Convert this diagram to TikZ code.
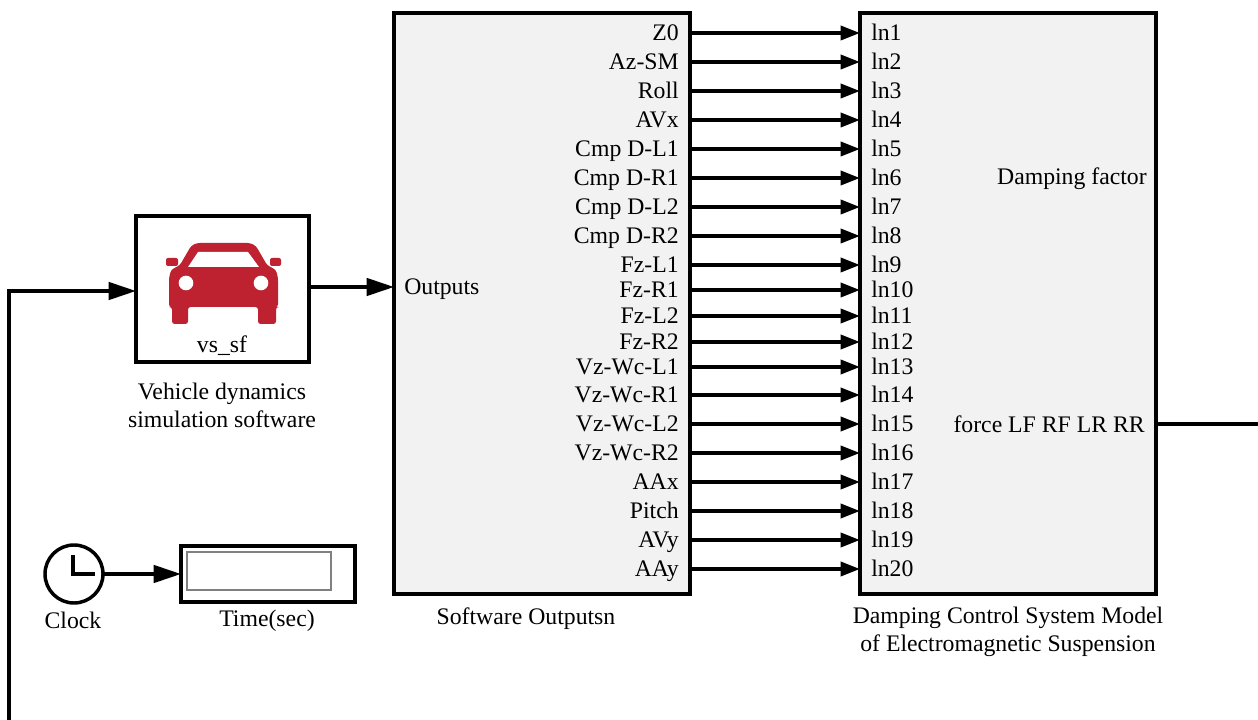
\documentclass[tikz,border=0pt]{standalone}
\usepackage{fontspec}
\setmainfont{Liberation Serif}
\usetikzlibrary{arrows.meta}
\definecolor{blockgray}{HTML}{F2F2F2}
\definecolor{carred}{HTML}{BE2130}
\tikzset{
block/.style={draw,line width=2.6pt,fill=blockgray,inner sep=0pt,outer sep=0pt},
wblock/.style={block,fill=white},
lab/.style={font=\fontsize{17.8}{21}\selectfont,inner sep=0pt},
sig/.style={-{Triangle[length=14.5pt,width=10.5pt]},line width=2.6pt},
bigsig/.style={-{Triangle[length=20.5pt,width=13pt]},line width=2.6pt},
}
\begin{document}
\begin{tikzpicture}[x=.75pt,y=-.75pt]
\useasboundingbox (0,0) rectangle (1258,720);
% blocks
\node[block,minimum width=222pt,minimum height=435.75pt] (outs) at (542,303.5){};
\node[block,minimum width=222pt,minimum height=435.75pt] (ctrl) at (1008,303.5){};
\node[wblock,minimum width=129.75pt,minimum height=109.5pt] (vs) at (222.5,289){};
\node[wblock,minimum width=130.5pt,minimum height=42pt] (disp) at (268,574){};
\node[draw=gray,fill=white,line width=1.5pt,minimum width=108pt,minimum height=28.5pt,inner sep=0pt] (win) at (259,571){};
\node[draw,circle,fill=white,line width=2.6pt,minimum size=43.5pt,inner sep=0pt,outer sep=0pt] (clk) at (74,574){};
\draw[line width=2.6pt] (73,555)--(73,574)--(95,574);
% car
\fill[carred,rounded corners=2pt] (169,278)--(171,270)--(180,265)--(191,246)--(197,243)--(250,243)--(256,246)--(267,265)--(276,270)--(278,278)--(278,307)--(276,307)--(276,324)--(258,324)--(258,307)--(188,307)--(188,324)--(172,324)--(172,307)--(169,307)--cycle;
\fill[carred,rounded corners=1.5pt] (166,258) rectangle (178,266);
\fill[carred,rounded corners=1.5pt] (270,258) rectangle (281,266);
\fill[white] (188,267)--(198,252)--(248,252)--(259,267)--cycle;
\fill[white] (186,283) circle (5.5pt);
\fill[white] (261,283) circle (5.5pt);
\node[lab] (vsn) at (222,346){vs\_sf};
% ports
\foreach \y/\s [count=\i] in {33/Z0,62/Az-SM,91/Roll,120/AVx,149/Cmp D-L1,178/Cmp D-R1,207/Cmp D-L2,236/Cmp D-R2,265/Fz-L1,290/Fz-R1,316/Fz-L2,342/Fz-R2,367/Vz-Wc-L1,395/Vz-Wc-R1,424/Vz-Wc-L2,453/Vz-Wc-R2,482/AAx,511/Pitch,540/AVy,569/AAy}{
\coordinate (o\i) at (outs.east|-0,\y);\coordinate (i\i) at (ctrl.west|-0,\y);
\node[lab,anchor=base east] (ol\i) at (679,\y+7.5){\s};
\node[lab,anchor=base west] (il\i) at (871,\y+7.5){ln\i};
\draw[sig] (o\i)--(i\i);
}
\node[lab,anchor=base west] (outl) at (404,295){Outputs};
\node[lab,anchor=base east] (dmp) at (1147,185){Damping factor};
\node[lab,anchor=base east] (frc) at (1145,433){force LF RF LR RR};
% captions
\node[lab,align=center] (vscap) at (222,405){Vehicle dynamics\\simulation software};
\node[lab] (clkcap) at (73,620){Clock};
\node[lab] (dispcap) at (267,621){Time(sec)};
\node[lab] (outcap) at (526,619){Software Outputsn};
\node[lab,align=center] (ctrlcap) at (1008,632){Damping Control System Model\\of Electromagnetic Suspension};
% signals
\coordinate (fbk) at (9,720);\coordinate (frcend) at (1258,424);
\draw[bigsig] (fbk)|-(vs.west|-0,291);
\draw[bigsig] (vs.east|-0,287)--(outs.west|-0,287);
\draw[bigsig] (clk.east)--(disp.west);
\draw[line width=2.6pt] (ctrl.east|-0,424)--(frcend);
\end{tikzpicture}
\end{document}
